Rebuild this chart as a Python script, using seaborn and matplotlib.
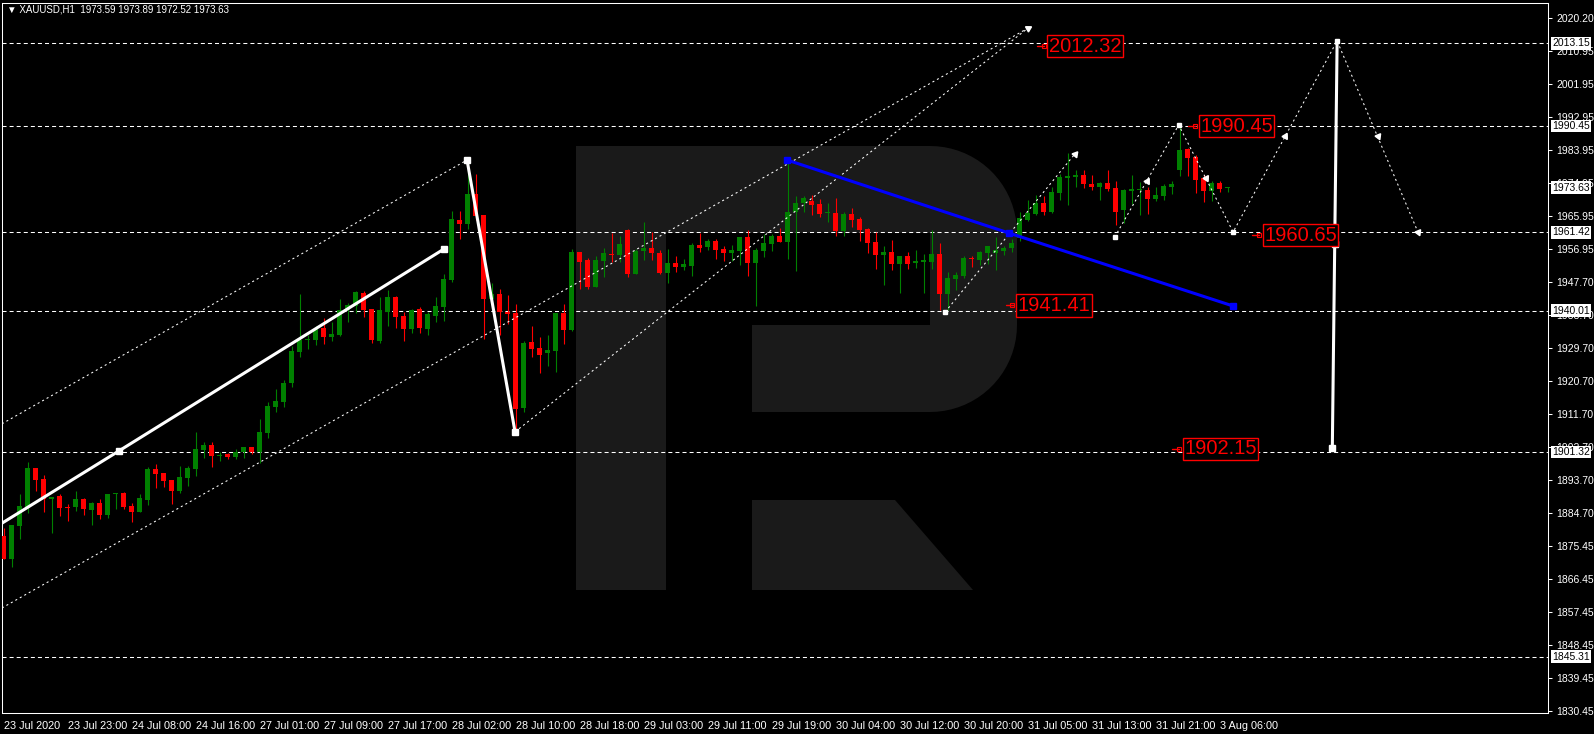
import numpy as np
import matplotlib
matplotlib.use("Agg")
import matplotlib.pyplot as plt
import seaborn as sns
from matplotlib.patches import Polygon
from matplotlib.transforms import Affine2D
from matplotlib import font_manager as fm

# ---------------- data ----------------
opens = [1878.3, 1872.0, 1881.0, 1885.9, 1896.9, 1893.9, 1888.4, 1889.2, 1886.2, 1886.2,
         1888.4, 1885.4, 1887.3, 1884.1, 1889.8, 1890.1, 1886.5, 1884.9, 1888.2, 1896.6,
         1895.5, 1893.6, 1890.6, 1894.2, 1896.6, 1901.8, 1903.2, 1900.2, 1900.7, 1899.9,
         1901.3, 1902.6, 1901.3, 1906.5, 1913.6, 1915.0, 1920.2, 1928.7, 1931.9, 1931.9,
         1935.2, 1932.8, 1933.3, 1940.2, 1941.2, 1944.8, 1940.4, 1931.7, 1939.6, 1943.7,
         1938.5, 1934.9, 1940.4, 1934.9, 1938.5, 1941.0, 1948.4, 1964.8, 1963.7, 1971.9,
         1966.2, 1943.2, 1944.5, 1939.6, 1939.3, 1913.3, 1931.4, 1929.8, 1928.4, 1928.9,
         1939.3, 1934.7, 1956.0, 1953.8, 1946.5, 1953.6, 1955.5, 1955.2, 1962.0, 1950.0,
         1956.3, 1957.1, 1955.8, 1950.3, 1953.0, 1951.9, 1952.2, 1957.9, 1957.4, 1959.0,
         1956.8, 1955.8, 1956.4, 1960.1, 1953.0, 1956.4, 1958.3, 1960.4, 1958.8, 1966.9,
         1969.3, 1969.9, 1969.2, 1966.6, 1966.7, 1961.8, 1966.4, 1965.1, 1962.3, 1958.7,
         1955.2, 1956.0, 1952.8, 1954.9, 1953.1, 1953.4, 1953.4, 1955.5, 1944.5, 1948.7,
         1949.5, 1954.2, 1953.9, 1955.8, 1955.8, 1956.4, 1957.0, 1959.9, 1964.8, 1966.4,
         1969.4, 1967.0, 1972.2, 1976.4, 1976.6, 1977.1, 1974.6, 1973.8, 1974.9, 1973.5,
         1967.5, 1972.7, 1973.0, 1973.0, 1970.5, 1971.3, 1973.8, 1978.5, 1984.2, 1982.0,
         1976.3, 1972.7, 1974.9, 1973.59]
highs = [1880.5, 1881.3, 1889.8, 1898.6, 1896.9, 1895.0, 1889.0, 1889.8, 1887.1, 1890.6,
         1888.7, 1887.6, 1888.4, 1889.8, 1890.1, 1890.3, 1887.3, 1889.8, 1897.2, 1898.0,
         1895.5, 1893.6, 1897.5, 1897.5, 1906.8, 1904.0, 1904.0, 1901.3, 1901.0, 1902.1,
         1902.6, 1902.6, 1910.3, 1914.9, 1918.5, 1921.0, 1930.3, 1944.5, 1933.3, 1935.8,
         1937.9, 1936.9, 1943.2, 1942.1, 1945.4, 1945.4, 1940.4, 1943.6, 1945.6, 1944.0,
         1939.6, 1940.4, 1941.0, 1939.6, 1943.7, 1950.0, 1967.2, 1967.2, 1981.2, 1977.4,
         1966.2, 1947.5, 1945.9, 1944.3, 1941.8, 1931.7, 1935.8, 1932.8, 1933.3, 1939.3,
         1941.8, 1956.8, 1956.0, 1954.4, 1954.9, 1957.1, 1961.2, 1960.4, 1962.3, 1956.9,
         1964.2, 1961.5, 1956.6, 1956.8, 1954.9, 1954.2, 1958.5, 1961.2, 1959.6, 1959.6,
         1957.7, 1957.9, 1960.1, 1962.0, 1957.0, 1961.0, 1961.0, 1962.6, 1981.2, 1971.4,
         1971.4, 1971.6, 1970.5, 1969.4, 1970.8, 1966.9, 1968.1, 1965.5, 1962.7, 1961.6,
         1957.7, 1959.3, 1954.9, 1956.0, 1956.6, 1955.5, 1962.0, 1958.5, 1950.6, 1950.6,
         1954.9, 1954.9, 1956.3, 1957.7, 1960.1, 1957.7, 1959.5, 1967.0, 1970.3, 1971.6,
         1971.4, 1973.8, 1977.4, 1983.1, 1978.5, 1978.5, 1977.1, 1975.2, 1978.5, 1975.5,
         1973.3, 1977.1, 1975.2, 1973.8, 1973.8, 1974.6, 1975.5, 1990.2, 1984.5, 1982.6,
         1977.1, 1975.5, 1975.5, 1973.89]
lows = [1872.0, 1869.8, 1877.5, 1884.6, 1890.6, 1884.9, 1879.1, 1883.8, 1882.4, 1885.1,
        1884.1, 1881.3, 1883.0, 1883.2, 1885.7, 1885.7, 1882.1, 1884.9, 1886.8, 1891.4,
        1891.7, 1887.1, 1890.1, 1892.0, 1894.7, 1899.6, 1897.2, 1898.8, 1899.4, 1899.4,
        1899.6, 1900.7, 1898.3, 1905.1, 1912.2, 1913.6, 1919.1, 1927.3, 1929.5, 1930.6,
        1930.8, 1931.7, 1933.0, 1936.9, 1939.3, 1938.2, 1931.1, 1931.1, 1935.8, 1935.2,
        1931.7, 1933.9, 1933.9, 1933.3, 1936.9, 1937.1, 1947.8, 1959.6, 1962.3, 1964.8,
        1932.2, 1943.2, 1933.3, 1936.3, 1907.6, 1912.2, 1927.3, 1922.9, 1924.8, 1923.2,
        1930.8, 1934.4, 1945.9, 1945.8, 1946.5, 1949.2, 1953.4, 1953.4, 1949.1, 1950.0,
        1953.8, 1953.8, 1950.0, 1947.6, 1950.6, 1951.2, 1949.5, 1956.1, 1956.6, 1954.1,
        1953.6, 1953.6, 1952.5, 1949.5, 1941.2, 1954.7, 1956.4, 1958.8, 1954.1, 1950.8,
        1967.0, 1966.1, 1965.5, 1964.2, 1960.4, 1960.4, 1962.9, 1959.0, 1955.8, 1951.4,
        1947.0, 1951.2, 1944.8, 1951.5, 1951.6, 1944.8, 1951.4, 1940.2, 1940.2, 1945.6,
        1949.0, 1952.0, 1952.5, 1952.7, 1951.2, 1955.2, 1956.0, 1959.0, 1964.5, 1966.1,
        1966.1, 1966.7, 1970.3, 1968.9, 1973.8, 1973.5, 1973.0, 1970.3, 1972.7, 1963.4,
        1963.9, 1969.2, 1966.1, 1966.4, 1970.0, 1970.3, 1971.9, 1976.8, 1976.8, 1972.2,
        1969.7, 1970.0, 1972.5, 1972.52]
closes = [1872.0, 1881.3, 1886.5, 1896.9, 1893.6, 1888.4, 1889.0, 1886.0, 1886.0, 1888.4,
          1885.7, 1887.3, 1884.1, 1889.8, 1890.1, 1886.2, 1884.9, 1888.7, 1896.6, 1895.3,
          1893.4, 1890.6, 1894.4, 1896.9, 1902.1, 1903.2, 1900.2, 1900.5, 1899.9, 1901.3,
          1902.6, 1901.3, 1906.8, 1913.9, 1915.2, 1920.2, 1928.9, 1931.9, 1932.2, 1934.9,
          1932.8, 1933.6, 1940.2, 1941.5, 1945.1, 1940.2, 1931.9, 1940.2, 1943.7, 1938.2,
          1934.9, 1940.2, 1935.2, 1939.1, 1941.2, 1948.6, 1965.1, 1963.7, 1971.9, 1965.9,
          1943.2, 1944.5, 1939.6, 1939.1, 1913.1, 1931.1, 1929.5, 1927.8, 1929.2, 1939.3,
          1934.7, 1956.0, 1953.3, 1946.5, 1953.8, 1955.8, 1955.2, 1958.2, 1950.0, 1956.3,
          1957.1, 1955.8, 1950.3, 1953.0, 1951.9, 1952.7, 1957.9, 1957.1, 1959.0, 1956.6,
          1955.8, 1956.6, 1960.1, 1953.0, 1956.6, 1958.5, 1960.4, 1958.8, 1966.9, 1969.4,
          1970.8, 1968.9, 1966.4, 1966.7, 1961.8, 1966.4, 1964.8, 1962.0, 1958.5, 1955.2,
          1956.0, 1952.7, 1954.9, 1952.7, 1953.6, 1953.6, 1955.5, 1944.5, 1948.9, 1949.7,
          1954.4, 1954.0, 1956.0, 1957.7, 1956.6, 1957.1, 1958.5, 1965.3, 1966.7, 1969.4,
          1967.0, 1972.4, 1976.6, 1976.6, 1977.1, 1974.6, 1973.8, 1974.9, 1973.3, 1967.0,
          1973.0, 1973.3, 1973.3, 1970.5, 1971.6, 1974.1, 1974.6, 1983.9, 1981.8, 1975.7,
          1972.7, 1974.9, 1973.3, 1973.63]

x_labels = ["23 Jul 2020", "23 Jul 23:00", "24 Jul 08:00", "24 Jul 16:00", "27 Jul 01:00",
            "27 Jul 09:00", "27 Jul 17:00", "28 Jul 02:00", "28 Jul 10:00", "28 Jul 18:00",
            "29 Jul 03:00", "29 Jul 11:00", "29 Jul 19:00", "30 Jul 04:00", "30 Jul 12:00",
            "30 Jul 20:00", "31 Jul 05:00", "31 Jul 13:00", "31 Jul 21:00", "3 Aug 06:00"]
x_label_bars = [0, 8, 16, 24, 32, 40, 48, 56, 64, 72, 80, 88, 96, 104, 112, 120, 128, 136, 144, 152]

y_ticks = [2020.20, 2010.95, 2001.95, 1992.95, 1983.95, 1974.95, 1965.95, 1956.95, 1947.70,
           1938.70, 1929.70, 1920.70, 1911.70, 1902.70, 1893.70, 1884.70, 1875.45, 1866.45,
           1857.45, 1848.45, 1839.45, 1830.45]

levels = [2013.15, 1990.45, 1961.42, 1940.01, 1901.32, 1845.31]
price_boxes = [2013.15, 1990.45, 1973.63, 1961.42, 1940.01, 1901.32, 1845.31]

target_text = ["2012.32", "1990.45", "1960.65", "1941.41", "1902.15"]
target_price = [2012.32, 1990.45, 1960.65, 1941.41, 1902.15]
target_bar = [130.3, 149.2, 157.2, 126.4, 147.2]

# drawn analysis objects (bar index, price)
trend_x = [-0.2, 14.44, 55.06]
trend_y = [1881.8, 1901.6, 1956.85]
swing_x = [57.94, 63.94]
swing_y = [1981.2, 1906.8]
chan_up_x = [-0.2, 57.94]
chan_up_y = [1909.0, 1981.2]
chan_lo_x = [-0.2, 128.06]
chan_lo_y = [1858.6, 2017.3]
chan_b_x = [63.94, 128.06]
chan_b_y = [1906.8, 2017.3]
blue_x = [97.94, 125.7, 153.69]
blue_y = [1981.2, 1961.2, 1941.25]
zig1_x = [117.7, 133.9]
zig1_y = [1939.6, 1982.8]
zig2_x = [138.9, 146.9, 153.7, 166.7, 176.8]
zig2_y = [1960.1, 1990.8, 1961.5, 2013.8, 1961.5]
vert_x = [166.7, 166.4, 166.1]
vert_y = [2013.8, 1958.2, 1902.4]

title = "\u25BC XAUUSD,H1  1973.59 1973.89 1972.52 1973.63"

# ---------------- style ----------------
sns.set_style("dark")
names = {f.name for f in fm.fontManager.ttflist}
has_narrow = "Liberation Sans Narrow" in names
reg = ["Liberation Sans", "DejaVu Sans"]
nar = ["Liberation Sans Narrow", "Liberation Sans", "DejaVu Sans"] if has_narrow else reg
plt.rcParams["font.family"] = reg
plt.rcParams["lines.scale_dashes"] = False

W, H = 1594, 734
fig = plt.figure(figsize=(W / 100, H / 100), dpi=100, facecolor="black")
ax = fig.add_axes([2 / W, 21 / H, 1546 / W, 710 / H])
ax.set_facecolor("black")
XMIN, XMAX = -0.19, 193.06
YMIN, YMAX = 1829.86, 2024.17
ax.set_xlim(XMIN, XMAX)
ax.set_ylim(YMIN, YMAX)

# watermark (image pixel geometry)
pix = Affine2D().scale(1, -1).translate(0, H)
t1 = np.linspace(np.pi / 2, 0, 20)
t2 = np.linspace(0, -np.pi / 2, 20)
arc1 = [(930 + 87 * np.cos(t), 233 - 87 * np.sin(t)) for t in t1]
arc2 = [(930 + 87 * np.cos(t), 325 - 87 * np.sin(t)) for t in t2]
r_body = [(576, 146), (930, 146)] + arc1 + arc2 + [(752, 412), (752, 325), (930, 325),
                                                  (930, 233), (666, 233), (666, 590), (576, 590)]
r_leg = [(752, 500), (895, 500), (973, 590), (752, 590)]
for poly in (r_body, r_leg):
    p = Polygon(poly, closed=True, facecolor="#1a1a1a", edgecolor="none", transform=pix, zorder=0.5)
    ax.add_patch(p)

# horizontal levels
for v in levels:
    ax.axhline(v, color="white", lw=0.75, dashes=(2.9, 2.2), zorder=2)

# candles
o = np.array(opens); c = np.array(closes); hi = np.array(highs); lo = np.array(lows)
idx = np.arange(len(o))
col = np.where(c >= o, "#008000", "#ff0000")
ax.vlines(idx, lo, hi, colors=col, lw=0.8, zorder=3)
ax.bar(idx, np.maximum(np.abs(c - o), 0.3), bottom=np.minimum(o, c), width=0.62,
       color=col, linewidth=0, zorder=4)


def draw(xs, ys, color, lw, dashes=None, z=5):
    sns.lineplot(x=xs, y=ys, sort=False, estimator=None, color=color, lw=lw, ax=ax, legend=False)
    ln = ax.lines[-1]
    if dashes:
        ln.set_dashes(dashes)
    ln.set_zorder(z)
    ln.set_solid_capstyle("butt")
    return ln

dot = (1.5, 2.2)
draw(chan_up_x, chan_up_y, "white", 0.75, dot)
draw(chan_lo_x, chan_lo_y, "white", 0.75, dot)
draw(chan_b_x, chan_b_y, "white", 0.75, dot)
draw(zig1_x, zig1_y, "white", 0.75, dot)
draw(zig2_x, zig2_y, "white", 0.75, dot)
draw(trend_x, trend_y, "white", 2.2)
draw(swing_x, swing_y, "white", 2.2)
draw(vert_x, vert_y, "white", 2.2)
draw(blue_x, blue_y, "#0000ff", 2.2, z=5.5)

ax.set_xlim(XMIN, XMAX)
ax.set_ylim(YMIN, YMAX)

# square anchors
ax.plot(trend_x[1:], trend_y[1:], "s", color="white", ms=4.5, zorder=6)
ax.plot(swing_x, swing_y, "s", color="white", ms=4.5, zorder=6)
ax.plot(vert_x[1:], vert_y[1:], "s", color="white", ms=4.5, zorder=6)
ax.plot(blue_x, blue_y, "s", color="#0000ff", ms=4.5, zorder=6)
ax.plot(zig2_x[:4] + zig1_x[:1], zig2_y[:4] + zig1_y[:1], "s", color="white", ms=3.2, zorder=6)

# arrow heads on forecast lines
def arrow_at(x0, y0, x1, y1, frac):
    a = ax.transData.transform((x0, y0)); b = ax.transData.transform((x1, y1))
    ang = np.degrees(np.arctan2(b[1] - a[1], b[0] - a[0]))
    px = x0 + (x1 - x0) * frac; py = y0 + (y1 - y0) * frac
    ax.plot([px], [py], marker=(3, 0, ang - 90), color="white", ms=5, zorder=6, lw=0)

arrow_at(chan_lo_x[0], chan_lo_y[0], chan_lo_x[1], chan_lo_y[1], 1.0)
arrow_at(zig1_x[0], zig1_y[0], zig1_x[1], zig1_y[1], 1.0)
for k in range(len(zig2_x) - 1):
    arrow_at(zig2_x[k], zig2_y[k], zig2_x[k + 1], zig2_y[k + 1], 0.5)
arrow_at(zig2_x[-2], zig2_y[-2], zig2_x[-1], zig2_y[-1], 1.0)

# red target labels
lbl_size = 17 if has_narrow else 14.5
for txt, py, bx in zip(target_text, target_price, target_bar):
    ax.plot([bx - 1.15, bx - 0.25], [py, py], color="#ff0000", lw=1, zorder=7)
    ax.plot([bx - 0.3], [py], "s", mfc="none", mec="#ff0000", ms=3, mew=0.8, zorder=7)
    ax.annotate(txt, xy=(bx, py), xytext=(3, 0), textcoords="offset pixels", ha="left",
                va="center", color="#ff0000", fontsize=lbl_size, family=nar, zorder=8,
                bbox=dict(boxstyle="square,pad=0.08", fc="black", ec="#ff0000", lw=1))

# axes cosmetics
for s in ax.spines.values():
    s.set_color("white"); s.set_linewidth(0.75); s.set_visible(True)
ax.grid(False)
ax.set_xlabel(""); ax.set_ylabel("")
ax.set_xticks(x_label_bars)
ax.set_xticklabels(x_labels, ha="left", family=nar, fontsize=7.8)
ax.yaxis.tick_right()
ax.set_yticks(y_ticks)
ax.set_yticklabels([f"{v:.2f}" for v in y_ticks], fontsize=7.5)
ax.tick_params(axis="x", colors="white", length=3, width=0.75, pad=3, direction="out")
ax.tick_params(axis="y", colors="white", length=3, width=0.75, pad=3, direction="out",
               right=True, left=False, labelright=True, labelleft=False)
ax.set_xlim(XMIN, XMAX)
ax.set_ylim(YMIN, YMAX)

for v in price_boxes:
    ax.annotate(f"{v:.2f}", xy=(1, v), xycoords=("axes fraction", "data"), xytext=(4, 0),
                textcoords="offset pixels", ha="left", va="center", color="black",
                fontsize=7.5, annotation_clip=False, zorder=9,
                bbox=dict(boxstyle="square,pad=0.12", fc="white", ec="white", lw=0))

fig.text(7 / W, 1 - 9 / H, title, color="white", fontsize=7, va="center", ha="left",
         family=reg)

fig.savefig("out.png", dpi=100, facecolor="black")
